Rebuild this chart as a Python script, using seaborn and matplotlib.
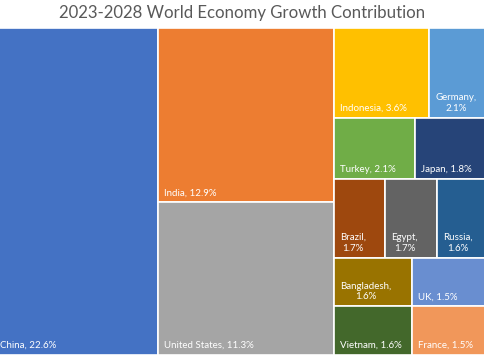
import matplotlib
matplotlib.use("Agg")
import matplotlib.pyplot as plt
import seaborn as sns

# data (order = colour order)
countries = ["China", "India", "United States", "Indonesia", "Germany", "Turkey", "Japan",
             "Brazil", "Egypt", "Bangladesh", "Russia", "Vietnam", "UK", "France"]
shares = [22.6, 12.9, 11.3, 3.6, 2.1, 2.1, 1.8, 1.7, 1.7, 1.6, 1.6, 1.6, 1.5, 1.5]
colors = ["#4472C4", "#ED7D31", "#A5A5A5", "#FFC000", "#5B9BD5", "#70AD47", "#264478",
          "#9E480E", "#636363", "#997300", "#255E91", "#43682B", "#698ED0", "#F1975A"]

# treemap grouping: columns -> rows -> items (indices into the lists above)
columns = [[[0]], [[1], [2]], [[3, 4], [5, 6], [7, 8, 10], [9, 12], [11, 13]]]

sns.set_style("white")
plt.rcParams["font.family"] = ["Lato", "DejaVu Sans"]

fig = plt.figure(figsize=(4.85, 3.6), dpi=100)
ax = fig.add_axes([-6 / 485, 5 / 360, 491 / 485, 327 / 360])

# slice layout computed from the values
rects = {}
x = 0.0
for col in columns:
    col_total = sum(shares[i] for row in col for i in row)
    y = 0.0
    for row in col:
        row_total = sum(shares[i] for i in row)
        h = row_total / col_total
        xx = x
        for i in row:
            w = col_total * shares[i] / row_total
            rects[i] = (xx, y, w, h)
            xx += w
        y += h
    x += col_total

idx = list(range(len(countries)))
ax.bar([rects[i][0] for i in idx], [rects[i][3] for i in idx],
       width=[rects[i][2] for i in idx], bottom=[rects[i][1] for i in idx],
       align="edge", color=colors, edgecolor="white", linewidth=1.2)
ax.set_xlim(0, x)
ax.set_ylim(1, 0)
ax.axis("off")

fig.canvas.draw()
renderer = fig.canvas.get_renderer()
for i in idx:
    rx, ry, rw, rh = rects[i]
    t = ax.annotate(f"{countries[i]}, {shares[i]}%", xy=(rx, ry + rh), xytext=(6, 5),
                    textcoords="offset pixels", ha="left", va="bottom",
                    color="white", fontsize=7, multialignment="center")
    cell_px = ax.transData.transform((rx + rw, 0))[0] - ax.transData.transform((rx, 0))[0]
    if t.get_window_extent(renderer).width + 10 > cell_px:
        t.set_text(f"{countries[i]},\n{shares[i]}%")

fig.text(0.5, 1 - 13 / 360, "2023-2028 World Economy Growth Contribution",
         ha="center", va="center", fontsize=12.1, color="#595959")

fig.savefig("out.png", dpi=100)
